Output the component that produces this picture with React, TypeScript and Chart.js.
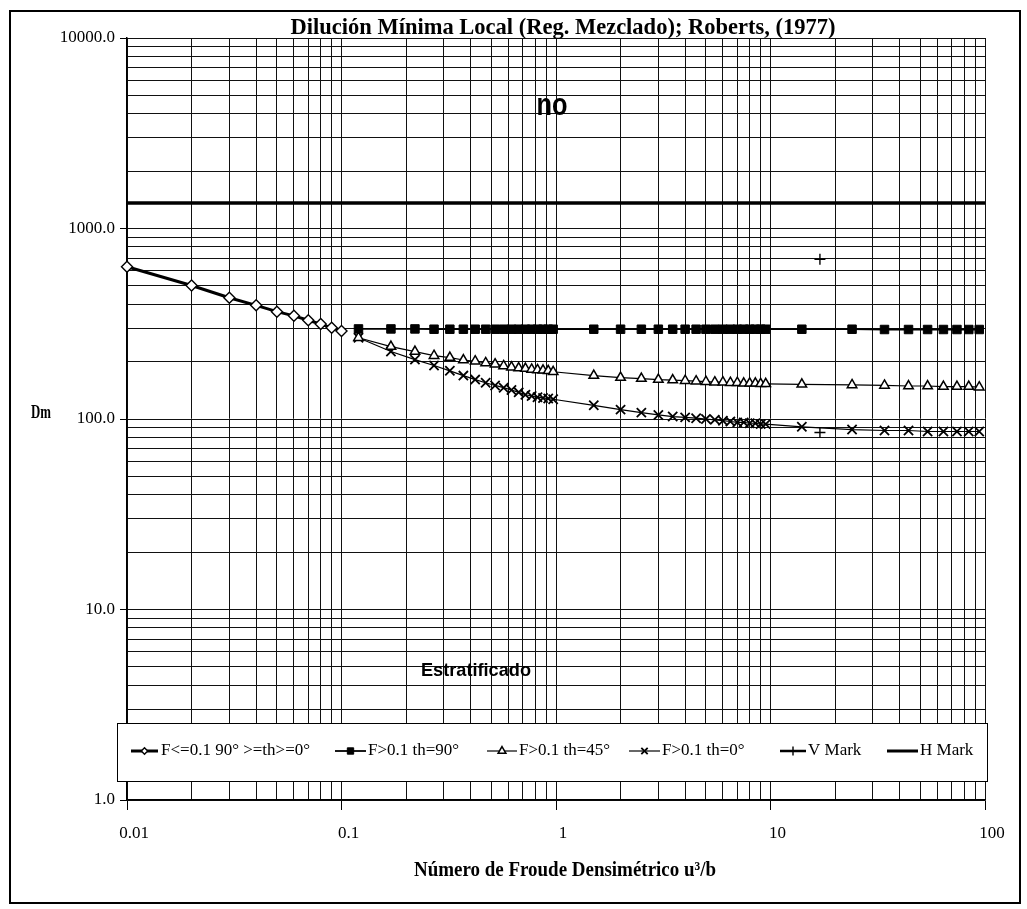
import React, { useEffect, useRef } from 'react';
import { Chart, registerables } from 'chart.js';

Chart.register(...registerables);

// ---------------- data ----------------
const froudeLow = [0.01, 0.02, 0.03, 0.04, 0.05, 0.06, 0.07, 0.08, 0.09, 0.1];
const dilutionLow = [630, 502, 433, 395, 366, 348, 330, 315, 301, 290];

const froudeHigh = [
  0.12, 0.17, 0.22, 0.27, 0.32, 0.37, 0.42, 0.47, 0.52, 0.57, 0.62, 0.67, 0.72, 0.77, 0.82, 0.87, 0.92, 0.97,
  1.5, 2, 2.5, 3, 3.5, 4, 4.5, 5, 5.5, 6, 6.5, 7, 7.5, 8, 8.5, 9, 9.5,
  14, 24, 34, 44, 54, 64, 74, 84, 94,
];
const dilution90 = [
  297, 297, 297, 296, 296, 296, 296, 296, 296, 296, 296, 296, 296, 296, 296, 296, 296, 296,
  296, 296, 296, 296, 296, 296, 296, 296, 296, 296, 296, 296, 296, 296, 296, 296, 296,
  296, 296, 295, 295, 295, 295, 295, 295, 295,
];
const dilution45 = [
  267, 240, 226, 215, 210, 204, 201, 197, 194, 190, 187, 185, 184, 182, 181, 180, 179, 177,
  169, 165, 163, 161, 160, 159, 158, 157, 156, 156, 155, 155, 154, 154, 154, 153, 153,
  152, 151, 150, 149, 149, 148, 148, 148, 147,
];
const dilution0 = [
  267, 226, 205, 191, 179, 169, 161, 155, 150, 146, 142, 138, 134, 132, 130, 129, 128, 127,
  118, 112, 108, 105, 103, 102, 101, 100, 99, 98, 97, 96, 96, 95, 95, 94, 94,
  91, 88, 87, 87, 86, 86, 86, 86, 86,
];
const vMarkX = [17, 17];
const vMarkY = [85, 690];
const hMarkX = [0.01, 100];
const hMarkY = [1360, 1360];

const xDecades = [0.01, 0.1, 1, 10, 100];
const yDecades = [1, 10, 100, 1000, 10000];

const seriesLabels = [
  'F<=0.1 90° >=th>=0°',
  'F>0.1 th=90°',
  'F>0.1 th=45°',
  'F>0.1 th=0°',
  'V Mark',
  'H Mark',
];
const titleText = 'Dilución Mínima Local (Reg. Mezclado); Roberts, (1977)';
const xTitleText = 'Número de Froude Densimétrico u³/b';
const yTitleText = 'Dm';
const noteTop = 'no';
const noteBottom = 'Estratificado';

// ---------------- helpers ----------------
const SERIF = "'Liberation Serif', 'Times New Roman', serif";
const SANS = "'Liberation Sans', Arial, sans-serif";

function withMinors(decades: number[]): number[] {
  const out: number[] = [];
  for (let i = 0; i < decades.length - 1; i++) {
    for (let m = 1; m <= 9; m++) out.push(Number((decades[i] * m).toPrecision(6)));
  }
  out.push(decades[decades.length - 1]);
  return out;
}
const isDecade = (v: number) => Math.abs(Math.log10(v) - Math.round(Math.log10(v))) < 1e-6;
const pts = (xs: number[], ys: number[]) => xs.map((x, i) => ({ x, y: ys[i] }));

function drawMarker(ctx: CanvasRenderingContext2D, style: string, x: number, y: number, r: number, fill: string, lw: number) {
  ctx.save();
  ctx.beginPath();
  ctx.lineWidth = lw;
  ctx.strokeStyle = '#000';
  ctx.fillStyle = fill;
  const s = r * Math.SQRT1_2;
  if (style === 'rectRot') {
    ctx.moveTo(x - s, y); ctx.lineTo(x, y + s); ctx.lineTo(x + s, y); ctx.lineTo(x, y - s); ctx.closePath();
    ctx.fill(); ctx.stroke();
  } else if (style === 'rect') {
    ctx.rect(x - s, y - s, 2 * s, 2 * s); ctx.fill(); ctx.stroke();
  } else if (style === 'triangle') {
    for (let k = 0; k < 3; k++) {
      const a = (k * 2 * Math.PI) / 3;
      const px = x + Math.sin(a) * r, py = y - Math.cos(a) * r;
      if (k === 0) ctx.moveTo(px, py); else ctx.lineTo(px, py);
    }
    ctx.closePath(); ctx.fill(); ctx.stroke();
  } else if (style === 'crossRot') {
    ctx.moveTo(x - s, y - s); ctx.lineTo(x + s, y + s); ctx.moveTo(x + s, y - s); ctx.lineTo(x - s, y + s); ctx.stroke();
  } else if (style === 'cross') {
    ctx.moveTo(x, y - r); ctx.lineTo(x, y + r); ctx.moveTo(x - r, y); ctx.lineTo(x + r, y); ctx.stroke();
  }
  ctx.restore();
}

// legend layout (pixels): sample start, sample end, text start, text max width
const legendLayout = [
  [131, 158, 161, 165],
  [335, 366, 368, 92],
  [487, 517, 519, 92],
  [629, 660, 662, 92],
  [780, 806, 808, 68],
  [887, 918, 920, 64],
];

const decorPlugin = {
  id: 'decor',
  beforeDraw(chart: any) {
    const ctx = chart.ctx as CanvasRenderingContext2D;
    ctx.save();
    ctx.fillStyle = '#fff';
    ctx.fillRect(0, 0, chart.width, chart.height);
    ctx.restore();
  },
  afterDraw(chart: any) {
    const ctx = chart.ctx as CanvasRenderingContext2D;
    ctx.save();
    // outer frame
    ctx.strokeStyle = '#000';
    ctx.lineWidth = 2;
    ctx.strokeRect(10, 11, 1010, 892);

    ctx.fillStyle = '#000';
    ctx.textBaseline = 'middle';
    ctx.textAlign = 'center';
    // title
    ctx.font = `bold 23px ${SERIF}`;
    ctx.fillText(titleText, 563, 28, 545);
    // notes
    ctx.font = `bold 32px ${SANS}`;
    ctx.fillText(noteTop, 552, 106, 31);
    ctx.font = `bold 19px ${SANS}`;
    ctx.fillText(noteBottom, 476, 671, 110);
    // axis titles
    ctx.font = `bold 19px ${SERIF}`;
    ctx.fillText(yTitleText, 41, 413, 20);
    ctx.font = `bold 21px ${SERIF}`;
    ctx.fillText(xTitleText, 565, 871, 302);

    // legend box
    ctx.fillStyle = '#fff';
    ctx.fillRect(117, 723, 870, 58);
    ctx.lineWidth = 1;
    ctx.strokeStyle = '#000';
    ctx.strokeRect(117.5, 723.5, 870, 58);
    const ly = 751;
    chart.data.datasets.forEach((ds: any, i: number) => {
      const [s0, s1, tx, tw] = legendLayout[i];
      ctx.beginPath();
      ctx.strokeStyle = '#000';
      ctx.lineWidth = Math.min(ds.legendLineWidth ?? ds.borderWidth, 3);
      ctx.moveTo(s0, ly);
      ctx.lineTo(s1, ly);
      ctx.stroke();
      if (ds.pointRadius > 0) {
        drawMarker(ctx, ds.pointStyle, (s0 + s1) / 2, ly, Math.min(ds.pointRadius, 4.5), ds.pointBackgroundColor, ds.pointBorderWidth);
      }
      ctx.fillStyle = '#000';
      ctx.textAlign = 'left';
      ctx.font = `17px ${SERIF}`;
      ctx.fillText(ds.label, tx, ly, tw);
    });
    ctx.restore();
  },
};

const xTicks = withMinors(xDecades);
const yTicks = withMinors(yDecades);

export default function App() {
  const ref = useRef<HTMLCanvasElement | null>(null);

  useEffect(() => {
    if (!ref.current) return;
    Chart.defaults.font.family = SERIF;
    Chart.defaults.color = '#000';
    const base = { borderColor: '#000', pointBorderColor: '#000', clip: false as any };
    const chart = new Chart(ref.current, {
      type: 'scatter',
      data: {
        datasets: [
          {
            ...base, label: seriesLabels[0], data: pts(froudeLow, dilutionLow), showLine: true, borderWidth: 3,
            pointStyle: 'rectRot', pointRadius: 5.5, pointBackgroundColor: '#fff', pointBorderWidth: 1.4,
          },
          {
            ...base, label: seriesLabels[1], data: pts(froudeHigh, dilution90), showLine: true, borderWidth: 1.8,
            pointStyle: 'rect', pointRadius: 6, pointBackgroundColor: '#000', pointBorderWidth: 1,
          },
          {
            ...base, label: seriesLabels[2], data: pts(froudeHigh, dilution45), showLine: true, borderWidth: 1.2,
            pointStyle: 'triangle', pointRadius: 5.5, pointBackgroundColor: '#fff', pointBorderWidth: 1.5,
          },
          {
            ...base, label: seriesLabels[3], data: pts(froudeHigh, dilution0), showLine: true, borderWidth: 1.2,
            pointStyle: 'crossRot', pointRadius: 6.5, pointBackgroundColor: '#000', pointBorderWidth: 1.8,
          },
          {
            ...base, label: seriesLabels[4], data: pts(vMarkX, vMarkY), showLine: false, borderWidth: 2,
            legendLineWidth: 2.5,
            pointStyle: 'cross', pointRadius: 5.5, pointBackgroundColor: '#000', pointBorderWidth: 1.4,
          } as any,
          {
            ...base, label: seriesLabels[5], data: pts(hMarkX, hMarkY), showLine: true, borderWidth: 3.5,
            pointStyle: 'circle', pointRadius: 0, pointBackgroundColor: '#000', pointBorderWidth: 0,
          },
        ],
      },
      options: {
        responsive: false,
        animation: false,
        layout: { padding: { left: 7, right: 42, top: 38, bottom: 59 } },
        plugins: {
          legend: { display: false },
          title: { display: false },
          tooltip: { enabled: false },
        },
        scales: {
          x: {
            type: 'logarithmic',
            min: 0.01,
            max: 100,
            afterBuildTicks: (s: any) => {
              s.ticks = xTicks.map((v) => ({ value: v, major: false }));
            },
            afterFit: (s: any) => {
              s.height = 50;
            },
            ticks: {
              autoSkip: false,
              maxRotation: 0,
              minRotation: 0,
              labelOffset: 7,
              padding: 13,
              color: '#000',
              font: { family: SERIF, size: 17 },
              callback: (v: any) => (isDecade(Number(v)) ? String(Number(v)) : ''),
            },
            grid: {
              color: '#111',
              lineWidth: 1,
              tickLength: 10,
              tickWidth: 1,
              tickColor: (c: any) => (c.tick && isDecade(c.tick.value) ? '#000' : 'rgba(0,0,0,0)'),
            },
            border: { color: '#000', width: 1.5 },
          },
          y: {
            type: 'logarithmic',
            min: 1,
            max: 10000,
            afterBuildTicks: (s: any) => {
              s.ticks = yTicks.map((v) => ({ value: v, major: false }));
            },
            afterFit: (s: any) => {
              s.width = 120;
            },
            ticks: {
              autoSkip: false,
              padding: 5,
              color: '#000',
              font: { family: SERIF, size: 17 },
              callback: (v: any) => (isDecade(Number(v)) ? Number(v).toFixed(1) : ''),
            },
            grid: {
              color: '#111',
              lineWidth: 1,
              tickLength: 7,
              tickWidth: 1,
              tickColor: (c: any) => (c.tick && isDecade(c.tick.value) ? '#000' : 'rgba(0,0,0,0)'),
            },
            border: { color: '#000', width: 1.5 },
          },
        },
      } as any,
      plugins: [decorPlugin],
    });
    return () => chart.destroy();
  }, []);

  return (
    <div style={{ position: 'fixed', left: 0, top: 0, width: 1027, height: 909, background: '#fff' }}>
      <canvas ref={ref} width={1027} height={909} style={{ display: 'block' }} />
    </div>
  );
}
